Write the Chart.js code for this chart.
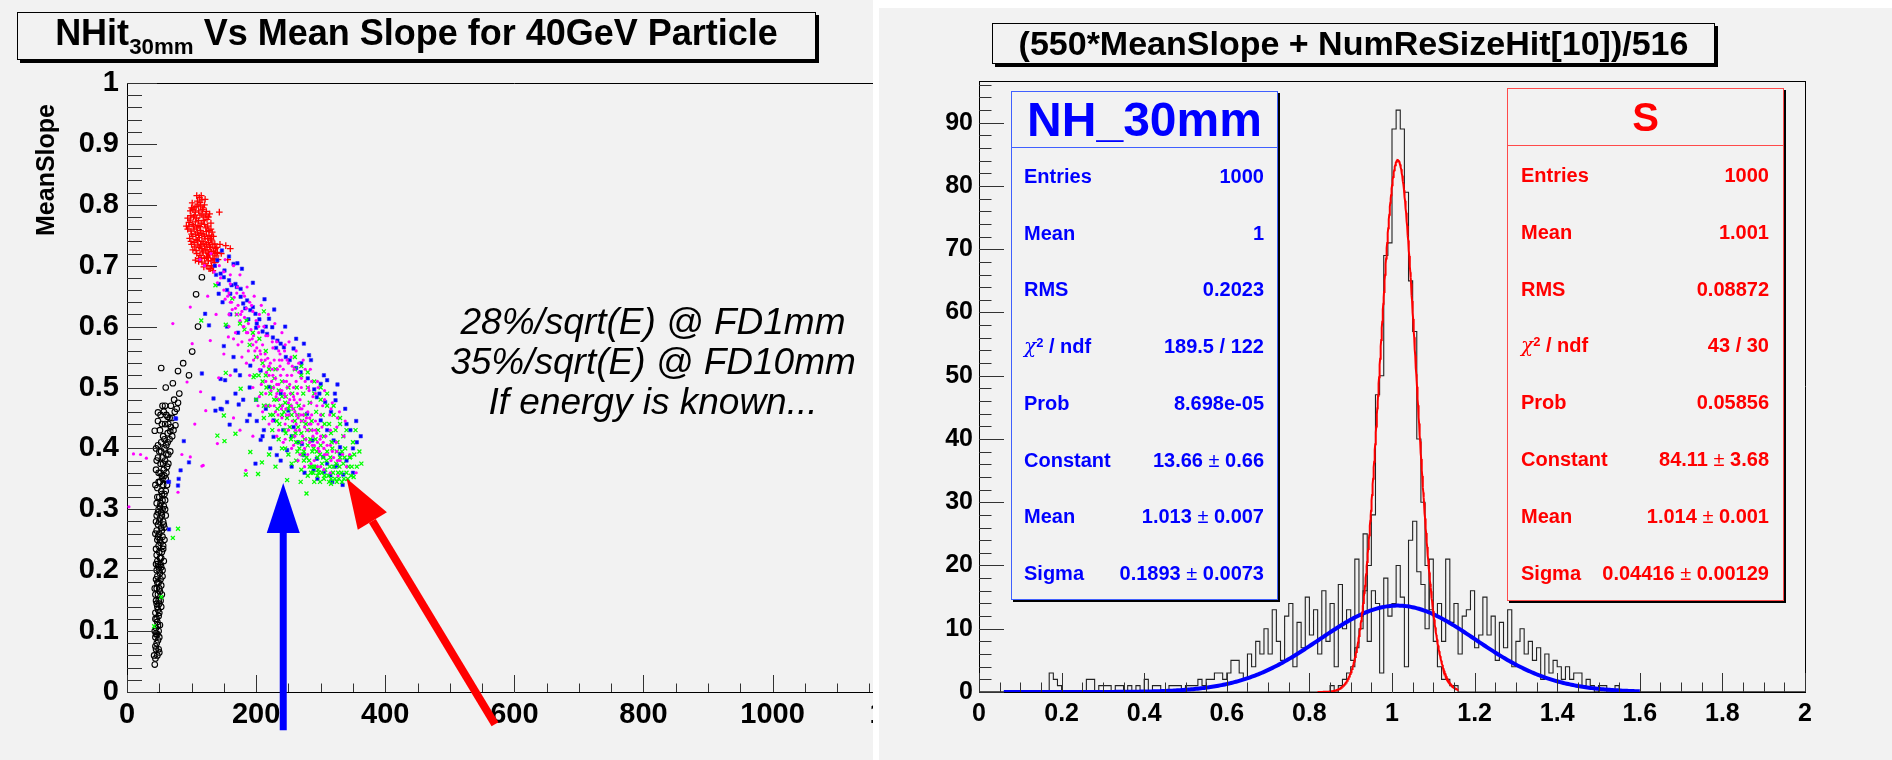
<!DOCTYPE html>
<html>
<head>
<meta charset="utf-8">
<script src="https://cdn.jsdelivr.net/npm/chart.js@4.4.1/dist/chart.umd.min.js"></script>
<style>
html,body{margin:0;padding:0;background:#fff;}
body{width:1892px;height:760px;position:relative;overflow:hidden;font-family:"Liberation Sans",Arial,Helvetica,sans-serif;}
.panel{position:absolute;background:#f2f2f2;overflow:hidden;}
#leftPanel{left:0;top:0;width:873px;height:760px;}
#rightPanel{left:879px;top:8px;width:1013px;height:752px;}
canvas{position:absolute;}
.titlebox{position:absolute;box-sizing:border-box;border:1px solid #000;background:#f2f2f2;box-shadow:3px 3px 0 #000;text-align:center;white-space:nowrap;color:#000;font-weight:bold;}
.titlebox sub{font-size:62%;vertical-align:-0.42em;line-height:0;}
.note{position:absolute;left:653px;transform:translateX(-50%);font-style:italic;font-size:37px;white-space:nowrap;color:#000;line-height:37px;}
.ytitle{position:absolute;font-weight:bold;font-size:25px;white-space:nowrap;transform-origin:0 0;transform:rotate(-90deg);color:#000;}
.stats{position:absolute;box-sizing:border-box;background:#f2f2f2;border:1px solid;box-shadow:2px 2px 0 #000;}
.stats .st-title{position:absolute;left:0;right:0;top:0;box-sizing:border-box;border-bottom:1px solid;text-align:center;font-weight:bold;}
.stats .row{position:absolute;display:flex;justify-content:space-between;font-weight:bold;font-size:20px;height:24px;line-height:24px;white-space:nowrap;}
.stats .pm{font-weight:normal;}
.stats .chi{font-weight:normal;font-style:italic;font-family:"DejaVu Serif",serif;}
.stats sup{font-size:65%;vertical-align:0.5em;line-height:0;}
</style>
</head>
<body>
<div class="panel" id="leftPanel">
  <canvas id="scatterCanvas" width="940" height="760" style="left:0;top:0;"></canvas>
  <div class="titlebox" style="left:17px;top:12px;width:799px;height:48px;font-size:36px;line-height:40px;">NHit<sub>30mm</sub> Vs Mean Slope for 40GeV Particle</div>
  <div class="ytitle" style="left:31px;top:236px;">MeanSlope</div>
  <div class="note" style="top:303px;">28%/sqrt(E) @ FD1mm</div>
  <div class="note" style="top:343px;">35%/sqrt(E) @ FD10mm</div>
  <div class="note" style="top:383px;">If energy is known...</div>
</div>
<div class="panel" id="rightPanel"></div>
<canvas id="histCanvas" width="1013" height="760" style="left:879px;top:0;"></canvas>
<div class="titlebox" style="left:992px;top:23px;width:723px;height:41px;font-size:34px;line-height:39px;">(550*MeanSlope + NumReSizeHit[10])/516</div>
<div id="statsLayer"></div>

<script>
// ---------------- scatter: NHit(30mm) vs mean slope ----------------
const blackPts = [
[43,0.045],[44,0.055],[42,0.06],[50,0.065],[45,0.07],[46,0.08],[44,0.09],[47,0.095],[43,0.10],[45,0.105],[48,0.11],[46,0.12],[49,0.125],[44,0.13],[47,0.14],[50,0.145],[45,0.15],[52,0.15],[48,0.16],[51,0.165],[46,0.17],[43,0.17],[49,0.18],[52,0.185],[47,0.19],[50,0.20],[55,0.20],[53,0.205],[48,0.21],[45,0.21],[51,0.22],[46,0.225],[54,0.23],[49,0.24],[56,0.24],[52,0.245],[47,0.25],[55,0.255],[50,0.26],[44,0.26],[53,0.27],[58,0.27],[48,0.275],[56,0.28],[51,0.285],[54,0.29],[46,0.29],[49,0.30],[59,0.30],[57,0.305],[52,0.31],[46,0.31],[55,0.315],[50,0.32],[58,0.325],[53,0.33],[60,0.33],[47,0.335],[56,0.34],[44,0.34],[51,0.345],[60,0.35],[54,0.355],[49,0.36],[61,0.36],[57,0.365],[62,0.37],[52,0.375],[59,0.38],[46,0.38],[55,0.385],[64,0.39],[50,0.395],[67,0.395],[58,0.40],[45,0.40],[61,0.405],[53,0.41],[66,0.415],[70,0.42],[56,0.42],[63,0.425],[43,0.429],[67,0.428],[75,0.438],[51,0.43],[68,0.435],[59,0.44],[48,0.445],[66,0.45],[63,0.452],[61,0.455],[74,0.46],[57,0.46],[48,0.459],[55,0.47],[68,0.47],[79,0.475],[73,0.48],[81,0.49],[60,0.50],[71,0.507],[96,0.52],[79,0.527],[53,0.532],[87,0.54],[101,0.559],[110,0.60],[107,0.653],[116,0.681],
[47,0.06],[49,0.07],[44,0.075],[48,0.085],[50,0.09],[45,0.095],[49,0.10],[51,0.11],[47,0.115],[44,0.12],[50,0.13],[48,0.135],[53,0.14],[46,0.145],[49,0.15],[54,0.16],[44,0.16],[50,0.17],[53,0.175],[47,0.18],[45,0.185],[55,0.19],[51,0.195],[46,0.20],[49,0.205],[52,0.21],[57,0.215],[47,0.215],[53,0.22],[50,0.23],[45,0.235],[56,0.235],[51,0.25],[58,0.25],[48,0.255],[46,0.265],[54,0.265],[57,0.275],[50,0.28],[45,0.28],[53,0.295],[48,0.295],[60,0.29],[55,0.30],[51,0.305],[47,0.32],[54,0.325],[59,0.315],[62,0.34],[49,0.345],[55,0.35],[52,0.36],[58,0.355],[45,0.365],[64,0.375],[56,0.375],[48,0.385],[61,0.39],[53,0.395],[63,0.41],[48,0.405],[58,0.415],[72,0.43],[54,0.44],[64,0.44],[70,0.45],[52,0.455],[59,0.47],[77,0.465]
];
const redPts = [
[108,0.815],[112,0.812],[116,0.808],[110,0.80],[104,0.795],[114,0.798],[120,0.80],[106,0.788],[111,0.79],[117,0.792],[123,0.789],[99,0.782],[103,0.78],[108,0.778],[113,0.783],[119,0.78],[124,0.776],[128,0.785],[96,0.771],[101,0.768],[106,0.772],[110,0.766],[115,0.770],[120,0.768],[125,0.765],[130,0.77],[94,0.76],[99,0.757],[104,0.76],[109,0.755],[114,0.758],[118,0.752],[123,0.756],[127,0.75],[132,0.755],[97,0.745],[102,0.748],[107,0.743],[112,0.746],[116,0.74],[121,0.744],[126,0.738],[131,0.742],[136,0.736],[100,0.735],[105,0.731],[110,0.734],[115,0.728],[120,0.732],[124,0.726],[129,0.73],[134,0.724],[139,0.73],[108,0.72],[113,0.717],[118,0.721],[123,0.714],[128,0.718],[133,0.712],[138,0.716],[116,0.706],[121,0.703],[126,0.708],[131,0.70],[136,0.705],[127,0.695],[133,0.692],[143,0.788],[160,0.728],[153,0.733],[156,0.71],[106,0.709],[111,0.707],[146,0.72],[144,0.735],[98,0.79],[101,0.803],
[102,0.792],[107,0.797],[113,0.804],[118,0.795],[122,0.783],[105,0.783],[111,0.774],[116,0.785],[126,0.78],[98,0.775],[103,0.765],[108,0.762],[113,0.764],[118,0.774],[122,0.762],[127,0.758],[96,0.765],[100,0.752],[106,0.752],[111,0.75],[116,0.753],[120,0.748],[125,0.745],[129,0.744],[134,0.748],[99,0.74],[104,0.738],[109,0.741],[114,0.735],[118,0.737],[123,0.735],[128,0.732],[133,0.735],[137,0.728],[102,0.726],[107,0.725],[112,0.73],[117,0.724],[122,0.726],[126,0.72],[131,0.723],[136,0.72],[111,0.712],[115,0.713],[120,0.712],[125,0.714],[130,0.708],[135,0.71],[119,0.698],[124,0.70],[129,0.695],[134,0.698],[109,0.806],[115,0.815],[121,0.809],[100,0.795],[94,0.778],[92,0.765],[140,0.722],[141,0.71],[130,0.76],[131,0.748]
];
const bluePts = [
[147,0.725],[165,0.703],[171,0.704],[145,0.687],[150,0.681],[158,0.676],[168,0.67],[142,0.654],[160,0.654],[170,0.665],[176,0.649],[186,0.643],[183,0.63],[191,0.627],[199,0.621],[121,0.621],[127,0.602],[201,0.605],[220,0.613],[225,0.599],[217,0.588],[233,0.577],[243,0.566],[274,0.572],[258,0.564],[282,0.553],[150,0.568],[168,0.528],[116,0.523],[145,0.514],[152,0.512],[191,0.536],[207,0.528],[269,0.525],[310,0.512],[326,0.505],[300,0.506],[134,0.482],[155,0.476],[168,0.49],[147,0.464],[173,0.472],[75,0.449],[159,0.439],[186,0.445],[201,0.445],[212,0.43],[227,0.419],[207,0.414],[88,0.412],[232,0.389],[248,0.397],[274,0.389],[294,0.383],[304,0.386],[320,0.413],[330,0.402],[346,0.43],[356,0.41],[330,0.391],[83,0.364],[80,0.35],[79,0.339],[65,0.345],[96,0.377],[65,0.267],[199,0.375],[289,0.364],[305,0.361],[315,0.356],[335,0.357],[334,0.34],[325,0.372],[310,0.43],[300,0.446],[258,0.435],[279,0.457],[294,0.484],[307,0.476],[323,0.479],[238,0.49],[220,0.501],[250,0.462],[227,0.446],[287,0.413],[271,0.407],[137,0.462],[145,0.465],[136,0.70],[140,0.709],[151,0.692],[76,0.449],[64,0.345],
[155,0.66],[162,0.668],[176,0.662],[180,0.638],[188,0.612],[195,0.632],[200,0.598],[205,0.612],[210,0.592],[215,0.60],[226,0.582],[231,0.565],[238,0.572],[246,0.55],[252,0.545],[262,0.532],[270,0.54],[280,0.515],[290,0.497],[298,0.49],[316,0.46],[340,0.44],[350,0.40],[322,0.37],[340,0.38],[310,0.375],[265,0.41],[255,0.42],[242,0.43],[215,0.465],[200,0.48],[190,0.50],[175,0.52],[165,0.55],[155,0.60],[172,0.59],[160,0.62],[148,0.64],[142,0.67],[138,0.685],
[158,0.715],[178,0.695],[195,0.672],[213,0.645],[228,0.628],[245,0.60],[262,0.58],[285,0.545],[305,0.52],[322,0.49],[338,0.465],[355,0.445],[362,0.42],[350,0.36],[318,0.345],[295,0.35],[275,0.36],[255,0.37],[238,0.38],[222,0.40],[210,0.42],[190,0.455],[180,0.48]
];
const magentaPts = [
[135,0.69],[140,0.672],[145,0.68],[150,0.66],[152,0.645],[158,0.655],[160,0.64],[163,0.628],[166,0.648],[170,0.62],[172,0.635],[175,0.61],[178,0.625],[180,0.60],[182,0.615],[185,0.59],[188,0.605],[190,0.578],[192,0.595],[195,0.57],[196,0.585],[198,0.56],[200,0.575],[202,0.55],[204,0.59],[206,0.56],[208,0.545],[210,0.57],[212,0.535],[214,0.555],[216,0.525],[218,0.548],[220,0.52],[222,0.54],[224,0.51],[225,0.53],[227,0.50],[228,0.545],[230,0.515],[232,0.49],[233,0.53],[235,0.505],[236,0.48],[238,0.52],[240,0.495],[241,0.47],[243,0.51],[245,0.485],[246,0.465],[248,0.50],[250,0.475],[251,0.455],[253,0.49],[255,0.47],[256,0.445],[258,0.485],[260,0.46],[262,0.44],[263,0.475],[265,0.45],[267,0.43],[268,0.465],[270,0.445],[272,0.42],[273,0.455],[275,0.435],[277,0.415],[278,0.45],[280,0.43],[283,0.41],[285,0.44],[288,0.42],[290,0.405],[292,0.43],[295,0.41],[298,0.395],[300,0.42],[305,0.40],[310,0.39],[315,0.405],[320,0.385],[325,0.395],[330,0.38],[222,0.47],[215,0.49],[208,0.505],[230,0.46],[245,0.44],[260,0.42],[275,0.40],[212,0.60],[200,0.61],[190,0.64],[180,0.655],[240,0.545],[255,0.52],[270,0.50],[285,0.475],[300,0.455],[315,0.43],[250,0.54],[262,0.51],[235,0.56],[225,0.575],
[228,0.47],[234,0.455],[242,0.53],[248,0.52],[252,0.505],[258,0.50],[264,0.49],[268,0.48],[274,0.47],[280,0.46],[286,0.455],[292,0.445],[296,0.44],[302,0.435],[308,0.42],[236,0.545],[244,0.56],[256,0.535],[266,0.525],[276,0.51],[282,0.495],[288,0.485],[294,0.47],[240,0.45],[250,0.43],[258,0.405],[268,0.39],[280,0.39],[290,0.38],[300,0.37],[245,0.57],[232,0.575],[218,0.585],[205,0.62],[195,0.625],[185,0.63],[170,0.655],[160,0.67],[150,0.69],[143,0.70],
[232,0.505],[238,0.495],[244,0.49],[252,0.48],[257,0.465],[263,0.455],[269,0.455],[276,0.445],[282,0.44],[287,0.43],[294,0.425],[299,0.415],[304,0.41],[310,0.405],[318,0.395],[324,0.41],[326,0.38],[334,0.39],[226,0.52],[220,0.535],[214,0.545],[207,0.555],[201,0.565],[194,0.58],[187,0.59],[181,0.60],[176,0.62],[168,0.63],[162,0.64],[156,0.65],[237,0.535],[247,0.51],[259,0.48],[271,0.465],[283,0.45],[296,0.40],[306,0.39],[316,0.38],[239,0.465],[247,0.455],[261,0.43],[271,0.41],[287,0.405],[231,0.485],[223,0.495],[215,0.51],[205,0.53],[196,0.545],[188,0.56],[178,0.575],[168,0.59],[158,0.60],[254,0.55],[266,0.54],[276,0.53],[286,0.51],[296,0.50],[306,0.48],[316,0.465],[326,0.45],
[152,0.71],[165,0.70],[175,0.685],[186,0.665],[197,0.65],[208,0.635],[219,0.62],[229,0.605],[240,0.59],[251,0.575],[262,0.56],[273,0.545],[284,0.53],[295,0.51],[306,0.495],[318,0.475],[329,0.46],[338,0.445],
[160,0.685],[171,0.665],[182,0.65],[193,0.635],[204,0.60],[215,0.585],[226,0.565],[237,0.555],[248,0.545],[259,0.53],[270,0.515],[281,0.50],[292,0.49],[303,0.47],[314,0.455],[325,0.435],[336,0.42],
[195,0.50],[205,0.485],[215,0.47],[225,0.445],[235,0.43],[245,0.415],[255,0.40],[265,0.38],[275,0.37],[285,0.375],[295,0.37],[305,0.365],[315,0.36],[327,0.355],[210,0.46],[220,0.44],[232,0.42],[242,0.41],[203,0.47],[190,0.52],[185,0.54],[178,0.55],[172,0.57],[165,0.58],[158,0.62],
[10,0.391],[21,0.39],[30,0.384],[3,0.304],[71,0.605],[98,0.632],[101,0.572],[116,0.371],[98,0.386],[114,0.493],[122,0.462],[140,0.408],[157,0.583],[129,0.577],[93,0.509],[142,0.516],[184,0.364],[165,0.45],[175,0.43],[195,0.42],[160,0.52],[150,0.555],[138,0.62],[125,0.65],[120,0.70],[113,0.71],[130,0.72],[340,0.37],[345,0.39],[355,0.36],[105,0.44],[85,0.39],[79,0.328],[118,0.372]
];
const greenPts = [
[200,0.55],[210,0.54],[215,0.52],[220,0.53],[225,0.50],[228,0.515],[232,0.48],[235,0.495],[238,0.47],[240,0.485],[243,0.46],[245,0.475],[248,0.45],[250,0.465],[252,0.435],[255,0.455],[257,0.42],[260,0.445],[262,0.41],[265,0.435],[267,0.40],[270,0.425],[272,0.39],[275,0.415],[277,0.44],[280,0.405],[282,0.38],[285,0.43],[287,0.395],[290,0.37],[292,0.415],[295,0.385],[297,0.36],[300,0.405],[302,0.375],[305,0.42],[307,0.365],[310,0.395],[312,0.355],[315,0.385],[317,0.41],[320,0.37],[322,0.35],[325,0.395],[327,0.36],[330,0.385],[333,0.345],[335,0.375],[338,0.40],[340,0.36],[345,0.385],[348,0.37],[352,0.39],[256,0.49],[266,0.47],[276,0.455],[286,0.445],[296,0.43],[306,0.44],[316,0.425],[240,0.51],[250,0.50],[230,0.53],[262,0.38],[270,0.365],[280,0.355],[290,0.345],[246,0.425],[236,0.44],[226,0.455],[218,0.47],[208,0.49],[198,0.52],[190,0.57],[182,0.595],[175,0.605],
[240,0.40],[255,0.375],[300,0.48],[310,0.47],[320,0.455],[330,0.44],[335,0.42],[260,0.53],[270,0.52],[280,0.50],[290,0.49],[250,0.39],[285,0.36],[295,0.355],[305,0.35],[325,0.345],[342,0.35],[215,0.56],[205,0.58],[195,0.59],[185,0.61],[170,0.62],[225,0.43],[235,0.415],[245,0.40],[212,0.45],
[258,0.465],[264,0.455],[271,0.445],[279,0.43],[284,0.415],[289,0.40],[294,0.395],[299,0.39],[304,0.385],[309,0.38],[314,0.37],[319,0.36],[324,0.375],[329,0.37],[332,0.36],[337,0.385],[343,0.37],[347,0.355],[261,0.425],[268,0.41],[274,0.395],[278,0.385],[283,0.37],[288,0.36],[293,0.37],[302,0.36],[313,0.345],[318,0.40],[326,0.41],[333,0.395],[252,0.47],[246,0.485],[240,0.455],[233,0.465],[228,0.48],[222,0.49],[216,0.50],[210,0.51],[204,0.52],[263,0.50],[273,0.49],[283,0.475],[293,0.46],[303,0.455],[313,0.44],[323,0.43],
[200,0.48],[212,0.47],[222,0.455],[232,0.445],[244,0.43],[254,0.415],[264,0.395],[274,0.38],[286,0.37],[296,0.365],[306,0.355],[316,0.35],[328,0.35],[336,0.35],[356,0.37],[360,0.395],[350,0.41],[340,0.43],[330,0.45],[320,0.47],[310,0.49],[300,0.50],[290,0.51],[280,0.525],[270,0.535],[260,0.55],
[115,0.61],[153,0.603],[212,0.625],[153,0.524],[140,0.421],[151,0.412],[191,0.394],[184,0.357],[203,0.358],[209,0.377],[150,0.454],[168,0.424],[248,0.348],[269,0.345],[278,0.326],[299,0.345],[316,0.342],[351,0.353],[354,0.43],[363,0.375],[346,0.386],[79,0.268],[71,0.253],[53,0.156],[42,0.108],[176,0.498],[196,0.517],[163,0.646],[137,0.668],[230,0.37],[220,0.39]
];
const scatterXTicks = [0, 200, 400, 600, 800, 1000, 1200];
const scatterYTicks = [0, 0.1, 0.2, 0.3, 0.4, 0.5, 0.6, 0.7, 0.8, 0.9, 1];
// arrows: [x0, y0, x1, y1] in data units (tail -> tip)
const arrowBlue = [242, -0.063, 242, 0.343];
const arrowRed = [570, -0.053, 340, 0.351];

// ---------------- histograms: (550*MeanSlope + NumReSizeHit[10])/516 ----------------
const binWidth = 0.01;
const nhStart = 0.17;
const nhCounts = [3,2,1,0,0,0,0,0,0,2,2,0,1,1,1,0,1,1,0,1,0,1,0,2,0,1,1,0,0,1,1,1,0,1,1,1,2,1,2,2,3,3,2,3,5,5,3,2,6,4,8,6,10,6,13,8,5,12,14,4,11,7,15,9,13,6,16,8,14,4,17,10,13,5,21,12,25,8,16,14,3,18,12,14,20,15,4,24,27,19,17,10,21,12,14,8,21,11,14,6,12,13,16,7,9,15,9,12,5,11,7,13,4,8,10,6,8,5,7,2,6,3,5,4,2,4,2,3,3,1,2,1,0,1,1,0,0,1];
const sStart = 0.84;
const sCounts = [0,1,0,1,2,3,4,7,10,16,20,28,47,50,69,71,89,92,89,79,65,57,40,30,20,13,8,4,2,2,1,1];
// Gaussian fit parameters [constant, mean, sigma] and fit ranges
const nhFit = [13.66, 1.013, 0.1893];
const nhFitRange = [0.06, 1.6];
const sFit = [84.11, 1.014, 0.04416];
const sFitRange = [0.82, 1.16];
const histXTicks = [0, 0.2, 0.4, 0.6, 0.8, 1, 1.2, 1.4, 1.6, 1.8, 2];
const histYTicks = [0, 10, 20, 30, 40, 50, 60, 70, 80, 90];

// stats box contents
const nhStatLabels = ['Entries','Mean','RMS','CHI','Prob','Constant','Mean','Sigma'];
const nhStatValues = ['1000','1','0.2023','189.5 / 122','8.698e-05','13.66|0.66','1.013|0.007','0.1893|0.0073'];
const sStatLabels = ['Entries','Mean','RMS','CHI','Prob','Constant','Mean','Sigma'];
const sStatValues = ['1000','1.001','0.08872','43 / 30','0.05856','84.11|3.68','1.014|0.001','0.04416|0.00129'];

// ---------------- helpers ----------------
const FONT = '"Liberation Sans", Arial, Helvetica, sans-serif';
const toXY = arr => arr.map(p => ({x: p[0], y: p[1]}));

// histogram outline: each point holds a bin's lower edge and content; the
// 'before' stepping keeps that content flat until the next edge
function histOutline(start, counts) {
  const pts = [{x: 0, y: 0}];
  counts.forEach((c, i) => pts.push({x: +(start + i * binWidth).toFixed(4), y: c}));
  const end = +(start + counts.length * binWidth).toFixed(4);
  pts.push({x: end, y: 0});
  pts.push({x: 2, y: 0});
  return pts;
}
function gaussCurve(par, range) {
  const [c, m, s] = par;
  const pts = [];
  const n = 400;
  for (let i = 0; i <= n; i++) {
    const x = range[0] + (range[1] - range[0]) * i / n;
    pts.push({x, y: c * Math.exp(-0.5 * ((x - m) / s) ** 2)});
  }
  return pts;
}
function drawArrow(ctx, x0, y0, x1, y1, w, headLen, headW, color) {
  const dx = x1 - x0, dy = y1 - y0, L = Math.hypot(dx, dy);
  const ux = dx / L, uy = dy / L, nx = -uy, ny = ux;
  const bx = x1 - ux * headLen, by = y1 - uy * headLen;
  ctx.fillStyle = color;
  ctx.beginPath();
  ctx.moveTo(x0 + nx * w / 2, y0 + ny * w / 2);
  ctx.lineTo(bx + nx * w / 2, by + ny * w / 2);
  ctx.lineTo(bx - nx * w / 2, by - ny * w / 2);
  ctx.lineTo(x0 - nx * w / 2, y0 - ny * w / 2);
  ctx.closePath();
  ctx.fill();
  ctx.beginPath();
  ctx.moveTo(x1, y1);
  ctx.lineTo(bx + nx * headW / 2, by + ny * headW / 2);
  ctx.lineTo(bx - nx * headW / 2, by - ny * headW / 2);
  ctx.closePath();
  ctx.fill();
}
function hline(ctx, x0, x1, y) { ctx.beginPath(); ctx.moveTo(x0, y); ctx.lineTo(x1, y); ctx.stroke(); }
function vline(ctx, x, y0, y1) { ctx.beginPath(); ctx.moveTo(x, y0); ctx.lineTo(x, y1); ctx.stroke(); }

// ---------------- scatter chart ----------------
const scatterDecor = {
  id: 'scatterDecor',
  afterDraw(chart) {
    const {ctx, chartArea: a, scales: {x, y}} = chart;
    ctx.save();
    ctx.strokeStyle = '#000';
    ctx.lineWidth = 1;
    hline(ctx, a.left, a.right, Math.round(a.top) + 0.5);
    vline(ctx, Math.round(a.right) + 0.5, a.top, a.bottom);
    ctx.strokeStyle = '#333';
    for (let i = 0; i <= 50; i++) {
      const py = Math.round(y.getPixelForValue(i * 0.02)) + 0.5;
      hline(ctx, a.left, a.left + (i % 5 === 0 ? 30 : 15), py);
    }
    for (let i = 0; i <= 24; i++) {
      const px = Math.round(x.getPixelForValue(i * 50)) + 0.5;
      vline(ctx, px, a.bottom, a.bottom - (i % 4 === 0 ? 17 : 8.5));
    }
    const b = arrowBlue, r = arrowRed;
    drawArrow(ctx, x.getPixelForValue(b[0]), y.getPixelForValue(b[1]), x.getPixelForValue(b[2]), y.getPixelForValue(b[3]), 7, 50, 33, '#0000ff');
    drawArrow(ctx, x.getPixelForValue(r[0]), y.getPixelForValue(r[1]), x.getPixelForValue(r[2]), y.getPixelForValue(r[3]), 8, 50, 34, '#ff0000');
    ctx.restore();
  }
};

new Chart(document.getElementById('scatterCanvas'), {
  type: 'scatter',
  data: {
    datasets: [
      {label: 'magenta', data: toXY(magentaPts), order: 0, pointStyle: 'circle', pointRadius: 1.6, backgroundColor: '#ff00ff', borderColor: '#ff00ff', borderWidth: 0},
      {label: 'green', data: toXY(greenPts), order: 1, pointStyle: 'crossRot', pointRadius: 2.8, borderColor: '#00ff00', backgroundColor: '#00ff00', borderWidth: 1.3},
      {label: 'blue', data: toXY(bluePts), order: 2, pointStyle: 'rect', pointRadius: 2.4, backgroundColor: '#0000ff', borderColor: '#3030ff', borderWidth: 0.6},
      {label: 'red', data: toXY(redPts), order: 3, pointStyle: 'cross', pointRadius: 3.3, borderColor: '#ff0000', backgroundColor: '#ff0000', borderWidth: 1.3},
      {label: 'black', data: toXY(blackPts), order: 4, pointStyle: 'circle', pointRadius: 2.8, backgroundColor: 'rgba(0,0,0,0)', borderColor: '#000', borderWidth: 1.1}
    ]
  },
  options: {
    responsive: false, animation: false, devicePixelRatio: 1,
    layout: {padding: {left: 0, top: 83, right: 38, bottom: 0}},
    plugins: {legend: {display: false}, tooltip: {enabled: false}},
    scales: {
      x: {
        type: 'linear', min: 0, max: 1200,
        afterFit: s => { s.height = 68; },
        afterBuildTicks: s => { s.ticks = scatterXTicks.map(v => ({value: v})); },
        grid: {display: false, drawTicks: false},
        border: {display: true, color: '#000', width: 1},
        ticks: {padding: 6, color: '#000', font: {family: FONT, size: 29, weight: 'bold'}, maxRotation: 0, autoSkip: false, callback: v => String(v)}
      },
      y: {
        type: 'linear', min: 0, max: 1,
        afterFit: s => { s.width = 127; },
        afterBuildTicks: s => { s.ticks = scatterYTicks.map(v => ({value: v})); },
        grid: {display: false, drawTicks: false},
        border: {display: true, color: '#000', width: 1},
        ticks: {padding: 8, color: '#000', font: {family: FONT, size: 29, weight: 'bold'}, autoSkip: false, callback: v => String(+v.toFixed(2))}
      }
    }
  },
  plugins: [scatterDecor]
});

// ---------------- histogram chart ----------------
const histDecor = {
  id: 'histDecor',
  afterDraw(chart) {
    const {ctx, chartArea: a, scales: {x, y}} = chart;
    ctx.save();
    ctx.strokeStyle = '#000';
    ctx.lineWidth = 1;
    hline(ctx, a.left, a.right, Math.round(a.top) + 0.5);
    vline(ctx, Math.round(a.right) + 0.5, a.top, a.bottom);
    ctx.strokeStyle = '#333';
    for (let i = 0; i <= 48; i++) {
      const py = Math.round(y.getPixelForValue(i * 2)) + 0.5;
      hline(ctx, a.left, a.left + (i % 5 === 0 ? 25 : 12.5), py);
    }
    for (let i = 0; i <= 40; i++) {
      const px = Math.round(x.getPixelForValue(i * 0.05)) + 0.5;
      vline(ctx, px, a.bottom, a.bottom - (i % 4 === 0 ? 19 : 9.5));
    }
    ctx.restore();
  }
};

new Chart(document.getElementById('histCanvas'), {
  type: 'line',
  data: {
    datasets: [
      {label: 'S fit', data: gaussCurve(sFit, sFitRange), order: 0, borderColor: '#ff0000', borderWidth: 2, pointRadius: 0, fill: false, tension: 0},
      {label: 'NH_30mm fit', data: gaussCurve(nhFit, nhFitRange), order: 1, borderColor: '#0000ff', borderWidth: 4, pointRadius: 0, fill: false, tension: 0},
      {label: 'S', data: histOutline(sStart, sCounts), order: 2, stepped: 'before', borderColor: '#222', borderWidth: 1.1, pointRadius: 0, fill: false},
      {label: 'NH_30mm', data: histOutline(nhStart, nhCounts), order: 3, stepped: 'before', borderColor: '#222', borderWidth: 1.1, pointRadius: 0, fill: false}
    ]
  },
  options: {
    responsive: false, animation: false, devicePixelRatio: 1,
    layout: {padding: {left: 0, top: 81, right: 87, bottom: 0}},
    plugins: {legend: {display: false}, tooltip: {enabled: false}},
    scales: {
      x: {
        type: 'linear', min: 0, max: 2,
        afterFit: s => { s.height = 68; },
        afterBuildTicks: s => { s.ticks = histXTicks.map(v => ({value: v})); },
        grid: {display: false, drawTicks: false},
        border: {display: true, color: '#000', width: 1},
        ticks: {padding: 7, color: '#000', font: {family: FONT, size: 25, weight: 'bold'}, maxRotation: 0, autoSkip: false, callback: v => String(+v.toFixed(2))}
      },
      y: {
        type: 'linear', min: 0, max: 96.6,
        afterFit: s => { s.width = 100; },
        afterBuildTicks: s => { s.ticks = histYTicks.map(v => ({value: v})); },
        grid: {display: false, drawTicks: false},
        border: {display: true, color: '#000', width: 1},
        ticks: {padding: 6, color: '#000', font: {family: FONT, size: 25, weight: 'bold'}, autoSkip: false, callback: v => String(v)}
      }
    }
  },
  plugins: [histDecor]
});

// ---------------- stats boxes ----------------
function fmtValue(v) {
  if (v.includes('|')) {
    const [a, b] = v.split('|');
    return a + ' <span class="pm">\u00b1</span> ' + b;
  }
  return v;
}
function fmtLabel(l) {
  return l === 'CHI' ? '<span class="chi">\u03c7</span><sup>2</sup> / ndf' : l;
}
function statsBox(o) {
  const box = document.createElement('div');
  box.className = 'stats';
  Object.assign(box.style, {left: o.left + 'px', top: o.top + 'px', width: o.width + 'px', height: o.height + 'px', borderColor: o.border, color: o.color});
  let html = `<div class="st-title" style="height:${o.titleH}px;line-height:${o.titleH}px;font-size:${o.titleSize}px;border-color:${o.border}">${o.title}</div>`;
  o.labels.forEach((l, i) => {
    const cy = o.row0 + o.rowStep * i;
    html += `<div class="row" style="left:${o.padL}px;right:${o.padR}px;top:${cy - 12}px"><span>${fmtLabel(l)}</span><span>${fmtValue(o.values[i])}</span></div>`;
  });
  box.innerHTML = html;
  document.getElementById('statsLayer').appendChild(box);
}
statsBox({left: 1011, top: 91, width: 267, height: 509, border: '#4060ff', color: '#0000ff', title: 'NH_30mm', titleH: 56, titleSize: 48, labels: nhStatLabels, values: nhStatValues, row0: 84, rowStep: 56.7, padL: 12, padR: 13});
statsBox({left: 1507, top: 88, width: 277, height: 513, border: '#ff4a4a', color: '#ff0000', title: 'S', titleH: 57, titleSize: 40, labels: sStatLabels, values: sStatValues, row0: 86, rowStep: 56.8, padL: 13, padR: 14});
</script>
</body>
</html>
